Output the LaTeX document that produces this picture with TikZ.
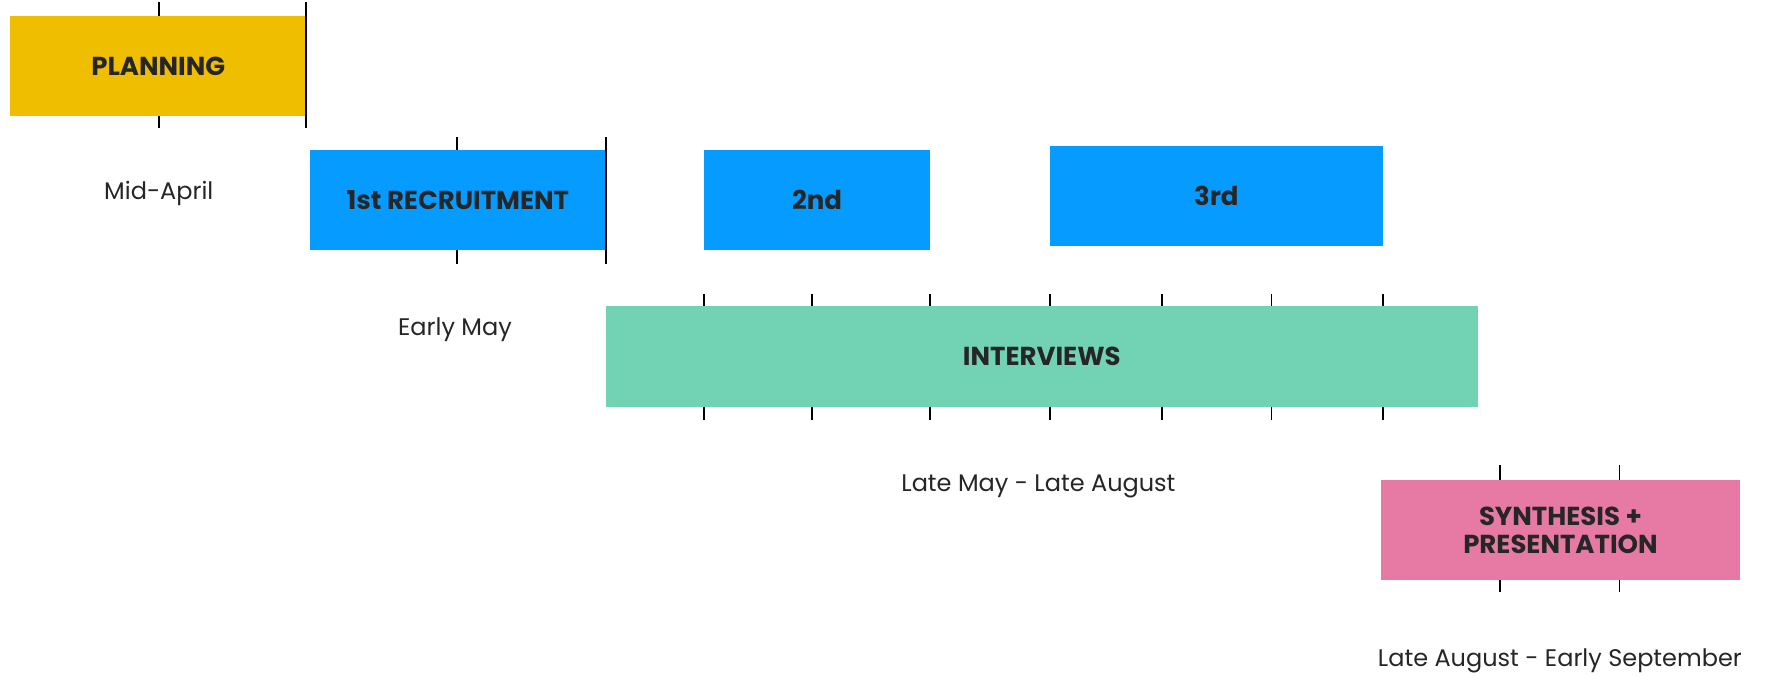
\documentclass[tikz,border=0pt]{standalone}
\usepackage{fontspec}
\setmainfont{Poppins}
\usetikzlibrary{fit}
\definecolor{planY}{HTML}{F0BE00}
\definecolor{recB}{HTML}{069CFF}
\definecolor{intG}{HTML}{72D2B4}
\definecolor{synP}{HTML}{E779A5}
\definecolor{ink}{HTML}{262626}
\begin{document}
\begin{tikzpicture}[x=0.8447pt,y=-0.8447pt,
  bar/.style={inner sep=0pt, draw=none},
  lbl/.style={inner sep=0pt, text=ink, align=center,
    font=\bfseries\fontsize{19.5}{21}\selectfont},
  tick/.style={line width=1.3pt, black},
  when/.style={inner sep=0pt, text=ink, font=\fontsize{18}{21}\selectfont}]
\useasboundingbox (0,0) rectangle (1568,600);

% phase bars
\node[bar, fill=planY, fit={(9,14) (272,103)}] (plan) {};
\node[bar, fill=recB, fit={(275,133) (538,222)}] (rec1) {};
\node[bar, fill=recB, fit={(625,133) (826,222)}] (rec2) {};
\node[bar, fill=recB, fit={(932,130) (1228,218)}] (rec3) {};
\node[bar, fill=intG, fit={(538,272) (1312,361)}] (intv) {};
\node[bar, fill=synP, fit={(1226,426) (1545,515)}] (syn) {};

% bar titles
\node[lbl] (planT) at (plan.center) {PLANNING};
\node[lbl] (rec1T) at (rec1.center) {1st RECRUITMENT};
\node[lbl] (rec2T) at (rec2.center) {2nd};
\node[lbl] (rec3T) at (rec3.center) {3rd};
\node[lbl] (intvT) at (intv.center) {INTERVIEWS};
\node[lbl] (synT) at (syn.center) {SYNTHESIS +\\PRESENTATION};

% time labels
\node[when] (t1) at (141,172) {Mid-April};
\node[when] (t2) at (404,293) {Early May};
\node[when] (t3) at (922,432) {Late May - Late August};
\node[when] (t4) at (1385,587) {Late August - Early September};

% tick marks above and below each bar
\foreach \x in {141}{
  \draw[tick] (\x,2) -- (\x,14);
  \draw[tick] (\x,103) -- (\x,114);}
\draw[tick] (272,2) -- (272,114);
\foreach \x in {406}{
  \draw[tick] (\x,122) -- (\x,133);
  \draw[tick] (\x,222) -- (\x,234);}
\draw[tick] (538,122) -- (538,234);
\foreach \x in {625,721,826,932,1032,1129,1228}{
  \draw[tick] (\x,261) -- (\x,272);
  \draw[tick] (\x,361) -- (\x,373);}
\foreach \x in {1332,1438}{
  \draw[tick] (\x,413) -- (\x,426);
  \draw[tick] (\x,515) -- (\x,526);}
\end{tikzpicture}
\end{document}
